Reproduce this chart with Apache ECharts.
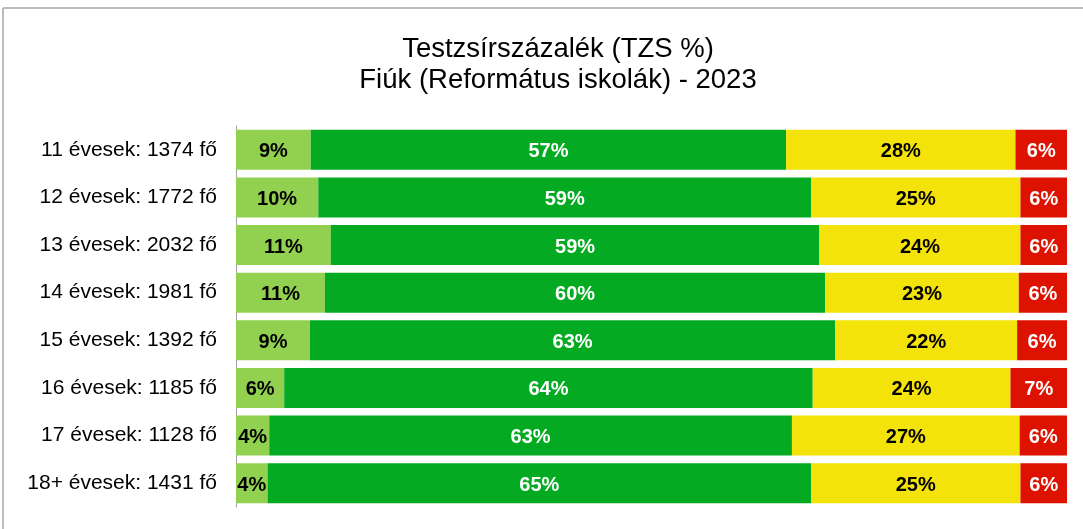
<!DOCTYPE html>
<html>
<head>
    <meta charset="UTF-8">
    <title>TZS % - Fiúk 2023</title>
    <script type="text/javascript" src="https://cdn.jsdelivr.net/npm/echarts@6/dist/echarts.min.js"></script>
    <style>
        html, body { margin: 0; padding: 0; background: #fff; }
        #myChart { width: 1083px; height: 529px; }
    </style>
</head>
<body>
<div id="myChart"></div>
<script>
// korcsoportok (fentről lefelé)
var categories = [
    '11 évesek: 1374 fő',
    '12 évesek: 1772 fő',
    '13 évesek: 2032 fő',
    '14 évesek: 1981 fő',
    '15 évesek: 1392 fő',
    '16 évesek: 1185 fő',
    '17 évesek: 1128 fő',
    '18+ évesek: 1431 fő'
];

// százalékos értékek, soronként 100%-ra összegezve
var lightGreen = [9.0, 9.9, 11.4, 10.7, 8.9, 5.8, 4.0, 3.8];
var darkGreen  = [57.2, 59.3, 58.8, 60.2, 63.2, 63.6, 62.9, 65.4];
var yellow     = [27.6, 25.2, 24.2, 23.3, 21.9, 23.8, 27.4, 25.2];
var red        = [6.2, 5.6, 5.6, 5.8, 6.0, 6.8, 5.7, 5.6];

var chart_myChart = echarts.init(document.getElementById('myChart'), null, {renderer: 'canvas'});

var FONT = 'Liberation Sans, Arial, sans-serif';

function makeSeries(name, values, color, textColor) {
    return {
        name: name,
        type: 'bar',
        stack: 'total',
        barCategoryGap: '16%',
        data: values,
        itemStyle: { color: color },
        label: {
            show: true,
            position: 'inside',
            offset: [0, 2],
            color: textColor,
            fontFamily: FONT,
            fontWeight: 'bold',
            fontSize: 20,
            formatter: function (p) { return Math.round(p.value) + '%'; }
        },
        emphasis: { disabled: true }
    };
}

var option = {
    animation: false,
    backgroundColor: '#ffffff',
    title: {
        text: 'Testzsírszázalék (TZS %)\nFiúk (Református iskolák) - 2023',
        left: 553,
        textAlign: 'center',
        top: 29,
        textStyle: {
            fontFamily: FONT,
            fontWeight: 'normal',
            fontSize: 27.5,
            lineHeight: 31,
            color: '#000000'
        }
    },
    // keret: csak felső és bal oldali vonal látszik
    graphic: [{
        type: 'line',
        shape: { x1: 3, y1: 8, x2: 1083, y2: 8 },
        style: { stroke: '#a6a6a6', lineWidth: 1.5 },
        silent: true
    }, {
        type: 'line',
        shape: { x1: 3, y1: 8, x2: 3, y2: 529 },
        style: { stroke: '#a6a6a6', lineWidth: 1.5 },
        silent: true
    }],
    grid: {
        left: 236,
        right: 16,
        top: 126,
        bottom: 22
    },
    xAxis: {
        type: 'value',
        min: 0,
        max: 100,
        show: false
    },
    yAxis: {
        type: 'category',
        inverse: true,
        data: categories,
        axisLine: { show: true, lineStyle: { color: '#a0a0a0', width: 1 } },
        axisTick: { show: false },
        axisLabel: {
            margin: 19,
            padding: [5, 0, 0, 0],
            color: '#000000',
            fontFamily: FONT,
            fontSize: 21
        }
    },
    series: [
        makeSeries('Sovány', lightGreen, '#92d050', '#000000'),
        makeSeries('Normál', darkGreen, '#04ab22', '#ffffff'),
        makeSeries('Túlsúlyos', yellow, '#f4e20b', '#000000'),
        makeSeries('Elhízott', red, '#de1200', '#ffffff')
    ]
};

chart_myChart.setOption(option);
</script>
</body>
</html>
